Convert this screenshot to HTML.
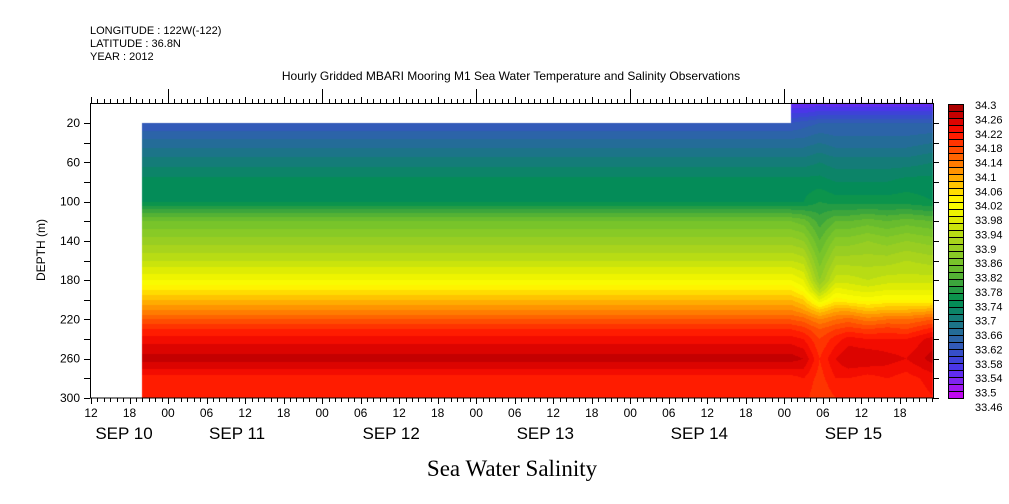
<!DOCTYPE html>
<html><head><meta charset="utf-8"><style>
body{margin:0;background:#fff;width:1009px;height:504px;overflow:hidden;position:relative;font-family:"Liberation Sans",sans-serif}
canvas,svg{position:absolute;left:0;top:0}
</style></head><body>
<canvas id="cv" width="1009" height="504"></canvas>
<svg id="sv" width="1009" height="504" font-family="Liberation Sans, sans-serif"></svg>
<script>
// ---- data ----
const depths = [0,10,20,40,60,80,100,120,140,160,180,190,200,210,220,230,240,260,280,300];
const colTimes = [8,109,111,113.5,116,118,121,124,127,131.2]; // hours since SEP 10 12:00
const colBase = [33.52,33.56,33.60,33.65,33.69,33.73,33.74,33.84,33.89,33.94,34.00,34.04,34.08,34.12,34.16,34.20,34.23,34.27,34.21,34.21];
const col111  = [33.52,33.56,33.61,33.65,33.69,33.73,33.74,33.83,33.88,33.93,33.98,34.01,34.06,34.10,34.15,34.19,34.22,34.26,34.22,34.21];
const col113  = [33.53,33.57,33.62,33.66,33.70,33.73,33.76,33.79,33.82,33.85,33.88,33.92,33.98,34.06,34.12,34.16,34.18,34.20,34.19,34.18];
const col116  = [33.52,33.57,33.62,33.65,33.69,33.72,33.75,33.82,33.87,33.91,33.95,33.99,34.03,34.09,34.14,34.18,34.21,34.24,34.22,34.20];
const col118  = [33.52,33.57,33.62,33.65,33.69,33.72,33.75,33.82,33.87,33.91,33.95,33.98,34.02,34.09,34.15,34.19,34.23,34.26,34.22,34.21];
const col121  = [33.52,33.57,33.62,33.65,33.69,33.72,33.75,33.83,33.88,33.91,33.94,33.97,34.01,34.07,34.13,34.18,34.22,34.26,34.21,34.20];
const col124  = [33.52,33.57,33.62,33.65,33.69,33.72,33.75,33.82,33.87,33.91,33.95,33.98,34.02,34.08,34.14,34.19,34.22,34.25,34.22,34.21];
const col127  = [33.52,33.57,33.62,33.65,33.69,33.73,33.75,33.83,33.88,33.92,33.95,33.98,34.02,34.08,34.14,34.18,34.22,34.24,34.21,34.20];
const col131  = [33.52,33.57,33.62,33.66,33.70,33.73,33.74,33.82,33.87,33.91,33.95,33.98,34.02,34.09,34.16,34.21,34.25,34.27,34.23,34.22];
const columns = [colBase,colBase,col111,col113,col116,col118,col121,col124,col127,col131];
const cbLabels = ["34.3","34.26","34.22","34.18","34.14","34.1","34.06","34.02","33.98","33.94","33.9","33.86","33.82","33.78","33.74","33.7","33.66","33.62","33.58","33.54","33.5","33.46"];
const depthTicks = [20,60,100,140,180,220,260,300];
const hourLabels = ["12","18","00","06","12","18","00","06","12","18","00","06","12","18","00","06","12","18","00","06","12","18"];
const dayLabels = ["SEP 10","SEP 11","SEP 12","SEP 13","SEP 14","SEP 15"];
const dayNoon = [0,24,48,72,96,120];
// ---- scales ----
const X0=91, PXH=6.42, Y0=103.4, PXD=0.982, PR=933, PB=398;
const xS=h=>X0+h*PXH, yS=d=>Y0+d*PXD;
const VMIN=33.46, VMAX=34.30, STEP=0.02;
const anchors=[[33.46,"#d000f0"],[33.50,"#9020f0"],[33.54,"#5030f0"],[33.58,"#3848d0"],[33.62,"#3060b0"],[33.66,"#207090"],[33.70,"#108070"],[33.74,"#009050"],[33.78,"#30a040"],[33.82,"#60b830"],[33.86,"#80c828"],[33.90,"#a0d020"],[33.94,"#c0e010"],[33.98,"#e8f000"],[34.02,"#ffff00"],[34.06,"#ffd000"],[34.10,"#ffa000"],[34.14,"#ff7000"],[34.18,"#ff4000"],[34.22,"#ff1000"],[34.26,"#d00000"],[34.30,"#a00000"]];
function hex(c){return [1,3,5].map(i=>parseInt(c.substr(i,2),16));}
function colorOf(v){
  let k=Math.floor((v-VMIN)/STEP); k=Math.max(0,Math.min(41,k));
  const m=VMIN+(k+0.5)*STEP;
  for(let i=0;i<anchors.length-1;i++){const a=anchors[i],b=anchors[i+1];
    if(m<=b[0]||i==anchors.length-2){const t=Math.max(0,Math.min(1,(m-a[0])/(b[0]-a[0])));const ca=hex(a[1]),cb=hex(b[1]);
      return `rgb(${ca.map((x,j)=>Math.round(x+(cb[j]-x)*t)).join(',')})`;}}
}
function interpIdx(xs,x){
  if(x<=xs[0])return 0;
  for(let i=0;i<xs.length-1;i++) if(x<=xs[i+1]) return i+(x-xs[i])/(xs[i+1]-xs[i]);
  return xs.length-1;
}
function val(h,d){
  const ti=interpIdx(colTimes,h), di=interpIdx(depths,d);
  const t0=Math.floor(ti),t1=Math.min(t0+1,colTimes.length-1),ft=ti-t0;
  const d0=Math.floor(di),d1=Math.min(d0+1,depths.length-1),fd=di-d0;
  const c0=columns[t0],c1=columns[t1];
  const a=c0[d0]+(c0[d1]-c0[d0])*fd, b=c1[d0]+(c1[d1]-c1[d0])*fd;
  return a+(b-a)*ft;
}
// ---- fill ----
const ctx=document.getElementById('cv').getContext('2d');
for(let px=Math.round(xS(colTimes[0]));px<PR;px+=1){
  const h=(px+0.5-X0)/PXH;
  for(let py=Math.round(Y0);py<PB;py++){
    const d=(py+0.5-Y0)/PXD;
    if(h<colTimes[1]&&d<20)continue;
    ctx.fillStyle=colorOf(val(h,d));ctx.fillRect(px,py,1,1);
  }
}
// ---- svg ----
const sv=document.getElementById('sv'),NS="http://www.w3.org/2000/svg";
function el(t,a,txt){const e=document.createElementNS(NS,t);for(const k in a)e.setAttribute(k,a[k]);if(txt!=null)e.textContent=txt;sv.appendChild(e);return e;}
function ln(x1,y1,x2,y2){return el('line',{x1,y1,x2,y2,stroke:'#000','stroke-width':1});}
let e;
e=el('rect',{x:90.5,y:103.5,width:843,height:294.5,fill:'none',stroke:'#000'});

for(let h=0;h<=131;h++){const x=Math.round(xS(h))+0.5;const hr=(12+h)%24;
  const big=hr%6==0, day=hr==0;
  ln(x,398,x,398+(big?6:4));
  ln(x,103,x,103-(day?14:(big?6:4)));
}
hourLabels.forEach((s,i)=>{e=el('text',{x:xS(i*6),y:417,'font-size':12,'text-anchor':'middle',fill:'#000'},s);
  });
dayLabels.forEach((s,i)=>{e=el('text',{x:xS(dayNoon[i])-(i==0?-33:8),y:439,'font-size':17,'text-anchor':'middle',fill:'#000'},s);
  });
for(let d=20;d<=300;d+=20){const y=Math.round(yS(d))+0.5;ln(90,y,84,y);ln(933,y,939,y);}
depthTicks.forEach(d=>{e=el('text',{x:80,y:yS(d)+4,'font-size':12,'text-anchor':'end',fill:'#000'},String(d));
  });
e=el('text',{x:0,y:0,'font-size':12,'text-anchor':'middle',transform:'translate(45,250) rotate(-90)'},'DEPTH (m)');

for(let k=0;k<42;k++){const v=VMAX-(k+0.5)*STEP;
  e=el('rect',{x:948.5,y:104.5+k*7,width:15,height:7,fill:colorOf(v),stroke:'#000','stroke-width':1});
  }
cbLabels.forEach((s,i)=>{e=el('text',{x:975,y:109+i*14.38,'font-size':11,fill:'#000'},s);
  });
[["LONGITUDE : 122W(-122)",34],["LATITUDE : 36.8N",47],["YEAR : 2012",60]].forEach(a=>{
  e=el('text',{x:90,y:a[1],'font-size':11,fill:'#000'},a[0]);});
e=el('text',{x:511,y:80,'font-size':12,'text-anchor':'middle',fill:'#000'},'Hourly Gridded MBARI Mooring M1 Sea Water Temperature and Salinity Observations');

e=el('text',{x:512,y:476,'font-size':23,'text-anchor':'middle','font-family':'Liberation Serif, serif',fill:'#000'},'Sea Water Salinity');

</script>
</body></html>
